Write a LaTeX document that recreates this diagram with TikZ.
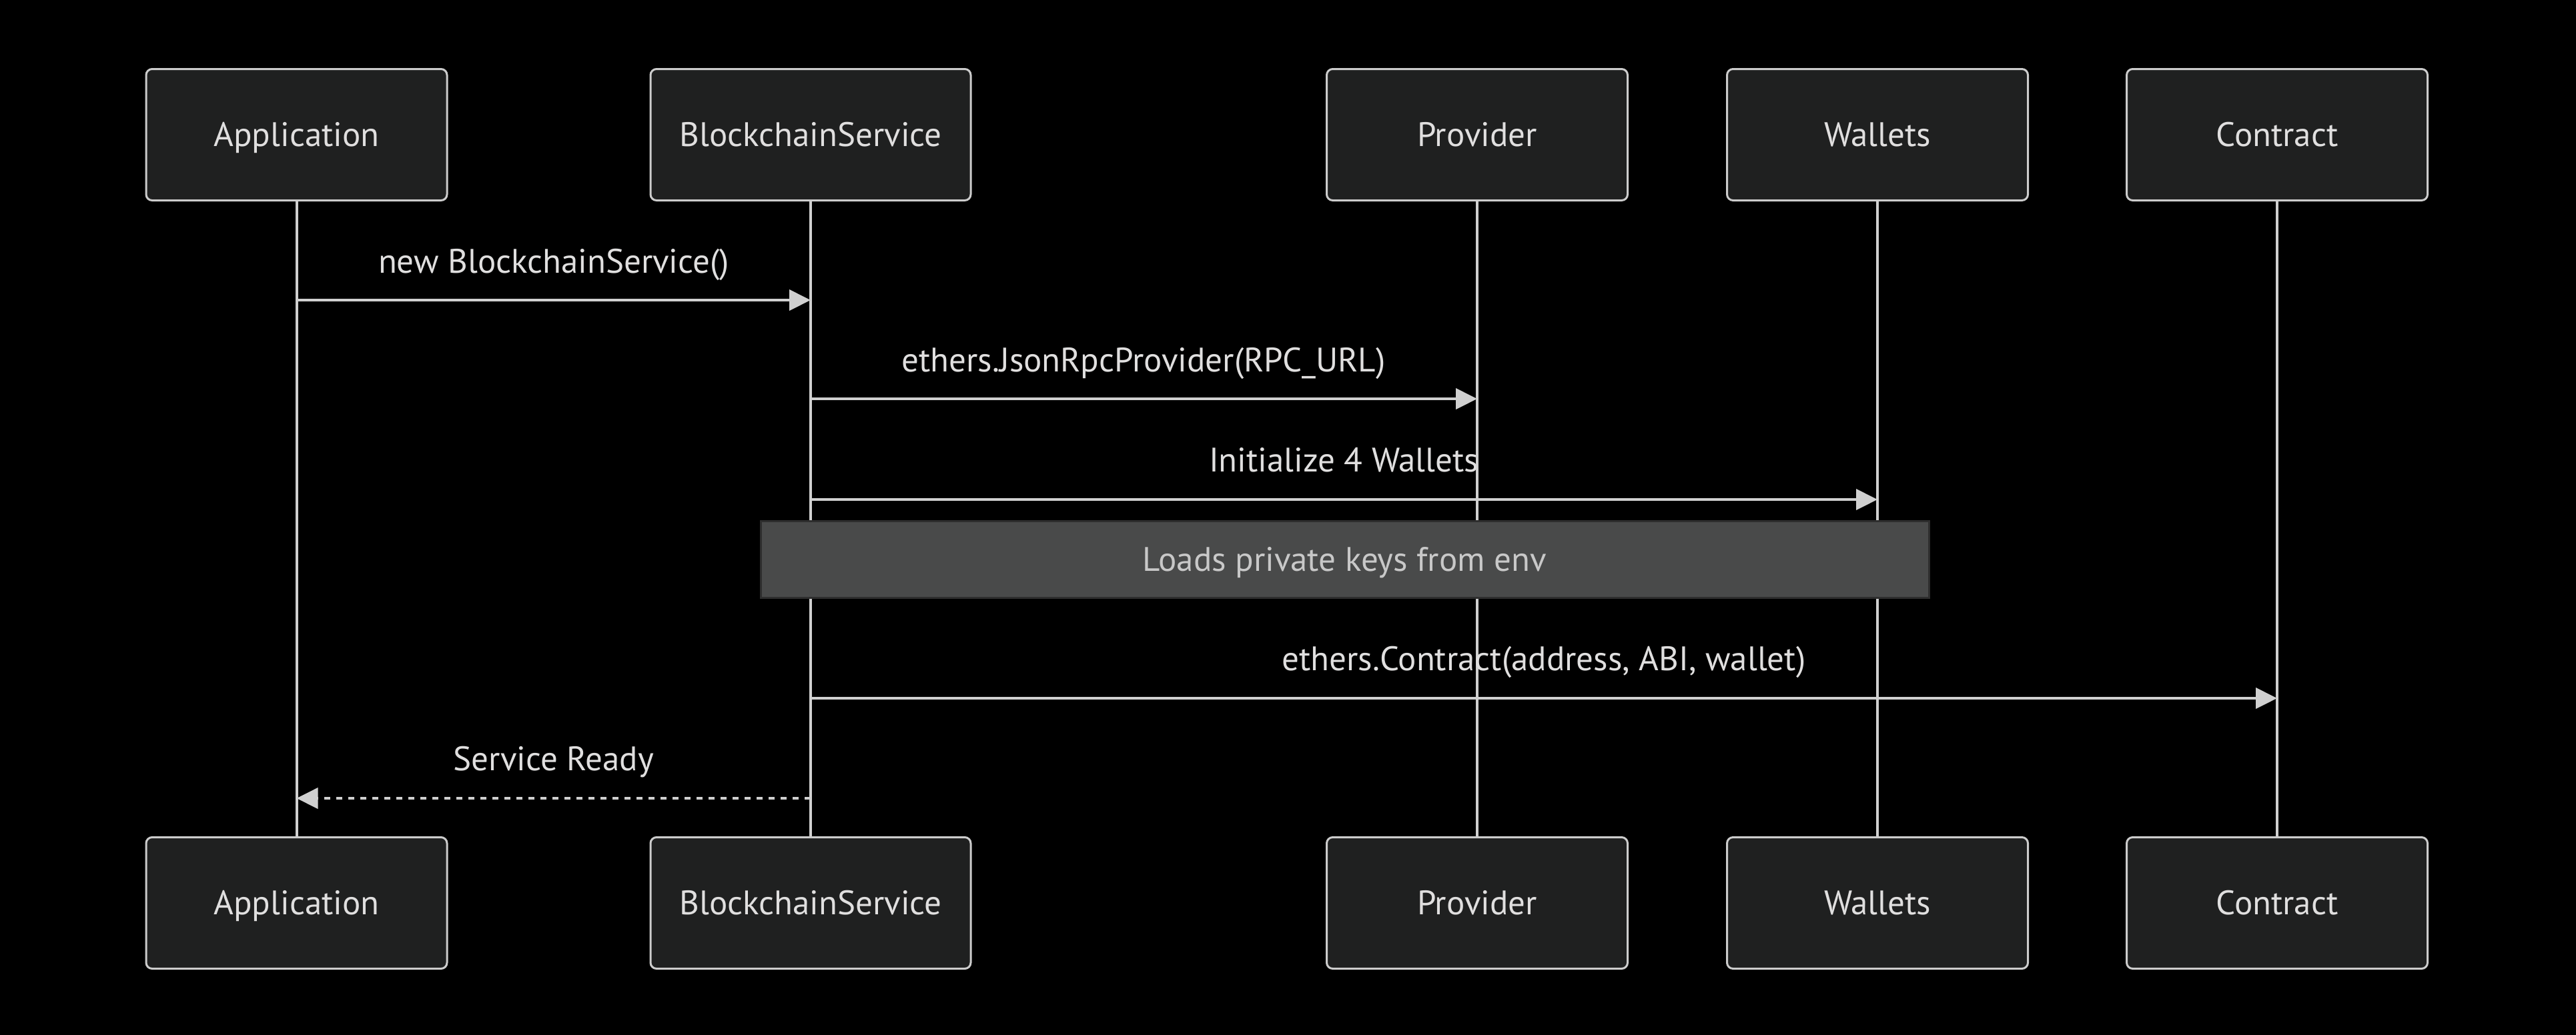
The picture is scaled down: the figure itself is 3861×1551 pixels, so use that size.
\documentclass[tikz,border=0pt]{standalone}
\usepackage{fontspec}
\setmainfont{PT Sans}
\usetikzlibrary{arrows.meta}
\definecolor{bgc}{HTML}{000000}
\definecolor{actorfill}{HTML}{1F2020}
\definecolor{actorborder}{HTML}{CCCCCC}
\definecolor{linec}{HTML}{D0D0D0}
\definecolor{textc}{HTML}{E0DFDF}
\definecolor{notefill}{HTML}{494A4A}
\definecolor{noteborder}{HTML}{2E2E2E}
\definecolor{notetext}{HTML}{C8C8C8}
\tikzset{
  txt/.style={font=\fontsize{51}{60}\selectfont, text height=35pt, text depth=0pt},
  actorbox/.style={txt, draw=actorborder, fill=actorfill, rounded corners=9pt, line width=3pt,
    minimum width=451pt, minimum height=197pt, inner sep=0pt, text=textc},
  widebox/.style={actorbox, minimum width=480pt},
  lifeline/.style={draw=linec, line width=4pt},
  msg/.style={draw=linec, line width=4pt, -{Triangle[length=32pt,width=31pt]}},
  reply/.style={draw=linec, line width=4pt, dash pattern=on 9pt off 9pt, -{Triangle[length=32pt,width=31pt]}},
  msglabel/.style={txt, text=textc, inner sep=0pt},
  notebox/.style={txt, draw=noteborder, fill=notefill, line width=3pt, minimum width=1751pt,
    minimum height=115pt, inner sep=0pt, text=notetext}
}
\begin{document}
\begin{tikzpicture}[x=1pt,y=-1pt]
\useasboundingbox (0,0) rectangle (3861,1551);
\fill[bgc] (-10,-10) rectangle (3871,1561);
% actors top
\node[actorbox] (appT) at (444.5,202) {Application};
\node[widebox] (bsT) at (1215,202) {BlockchainService};
\node[actorbox] (prT) at (2214,202) {Provider};
\node[actorbox] (waT) at (2814,202) {Wallets};
\node[actorbox] (coT) at (3413,202) {Contract};
% actors bottom
\node[actorbox] (appB) at (444.5,1354) {Application};
\node[widebox] (bsB) at (1215,1354) {BlockchainService};
\node[actorbox] (prB) at (2214,1354) {Provider};
\node[actorbox] (waB) at (2814,1354) {Wallets};
\node[actorbox] (coB) at (3413,1354) {Contract};
% lifelines
\draw[lifeline] (appT.south) -- (appB.north);
\draw[lifeline] (bsT.south) -- (bsB.north);
\draw[lifeline] (prT.south) -- (prB.north);
\draw[lifeline] (waT.south) -- (waB.north);
\draw[lifeline] (coT.south) -- (coB.north);
% row coordinates
\coordinate (r1) at (0,450);
\coordinate (r2) at (0,598);
\coordinate (r3) at (0,749);
\coordinate (r4) at (0,1047);
\coordinate (r5) at (0,1197);
% messages
\draw[msg] (appT |- r1) -- (bsT |- r1);
\node[msglabel] (l1) at (830,392) {new BlockchainService()};
\draw[msg] (bsT |- r2) -- (prT |- r2);
\node[msglabel] (l2) at (1714,540) {ethers.JsonRpcProvider(RPC\_URL)};
\draw[msg] (bsT |- r3) -- (waT |- r3);
\node[msglabel] (l3) at (2014,690) {Initialize 4 Wallets};
\node[notebox] (note) at (2015.5,839) {Loads private keys from env};
\draw[msg] (bsT |- r4) -- (coT |- r4);
\node[msglabel] (l4) at (2314,988) {ethers.Contract(address, ABI, wallet)};
\draw[reply] (bsT |- r5) -- (appT |- r5);
\node[msglabel] (l5) at (830,1138) {Service Ready};
\end{tikzpicture}
\end{document}
